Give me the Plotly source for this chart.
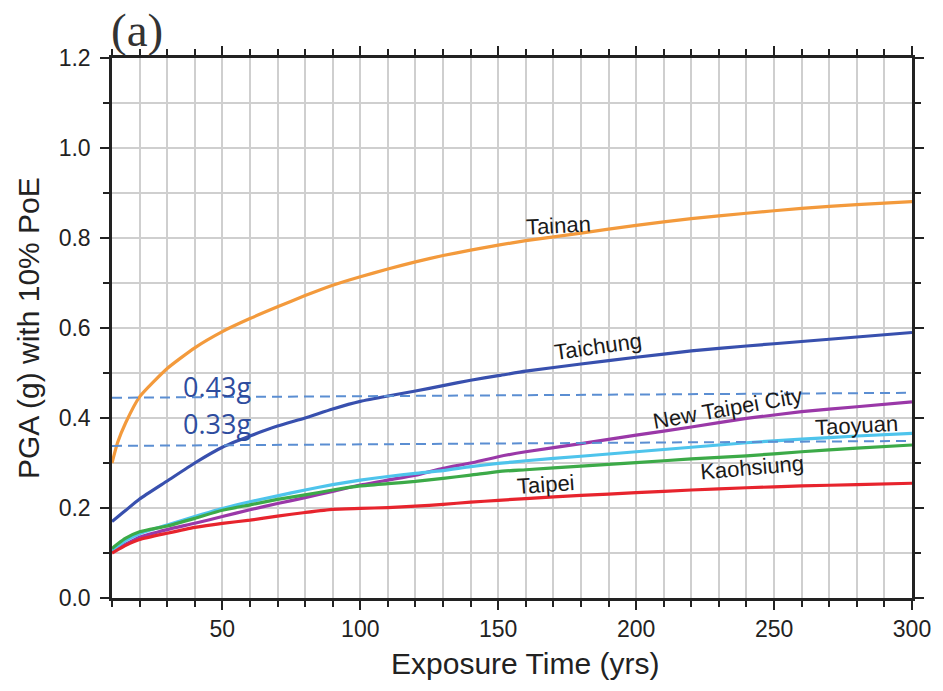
import plotly.graph_objects as go

# ---- data ----
exposure_years = [10, 12, 15, 20, 30, 40, 50, 60, 70, 80, 90, 100, 110, 120, 130, 140,
                  150, 160, 180, 200, 220, 240, 260, 280, 300]

tainan = [0.300, 0.345, 0.390, 0.447, 0.510, 0.556, 0.592, 0.621, 0.647, 0.672, 0.695, 0.714,
          0.731, 0.747, 0.761, 0.773, 0.784, 0.794, 0.811, 0.828, 0.843, 0.855, 0.866, 0.874, 0.881]
taichung = [0.170, 0.180, 0.195, 0.220, 0.260, 0.300, 0.335, 0.360, 0.382, 0.400, 0.420, 0.437,
            0.449, 0.460, 0.472, 0.484, 0.494, 0.504, 0.520, 0.535, 0.549, 0.560, 0.570, 0.580, 0.590]
new_taipei = [0.105, 0.110, 0.120, 0.135, 0.152, 0.166, 0.181, 0.196, 0.210, 0.223, 0.237, 0.251,
              0.262, 0.273, 0.288, 0.300, 0.314, 0.325, 0.343, 0.362, 0.380, 0.399, 0.414, 0.425, 0.436]
taoyuan = [0.105, 0.115, 0.128, 0.143, 0.162, 0.181, 0.199, 0.214, 0.227, 0.240, 0.252, 0.262,
           0.270, 0.277, 0.283, 0.292, 0.299, 0.305, 0.315, 0.325, 0.335, 0.345, 0.353, 0.360, 0.366]
kaohsiung = [0.110, 0.120, 0.133, 0.147, 0.160, 0.177, 0.195, 0.207, 0.219, 0.229, 0.240, 0.249,
             0.254, 0.259, 0.266, 0.273, 0.281, 0.285, 0.293, 0.301, 0.309, 0.316, 0.325, 0.333, 0.340]
taipei = [0.100, 0.107, 0.117, 0.130, 0.144, 0.157, 0.166, 0.173, 0.182, 0.190, 0.197, 0.199,
          0.201, 0.204, 0.208, 0.213, 0.217, 0.221, 0.228, 0.234, 0.240, 0.245, 0.249, 0.252, 0.255]

series_names = ["Tainan", "Taichung", "New Taipei City", "Taoyuan", "Kaohsiung", "Taipei"]
series_values = [tainan, taichung, new_taipei, taoyuan, kaohsiung, taipei]
series_colors = ["#F39A3C", "#3850AE", "#9A38A8", "#4EC4EC", "#3CAA48", "#E7242D"]

# in-plot city labels: (x, y, angle)
label_x = [172, 186, 233, 280, 242, 167]
label_y = [0.827, 0.558, 0.422, 0.384, 0.291, 0.253]
label_angle = [-3, -8, -10, -3, -5, -4]

# dashed reference lines (start/end values) and their texts
ref_x = [10, 300]
ref_upper = [0.445, 0.456]
ref_lower = [0.338, 0.349]
ref_texts = ["0.43g", "0.33g"]
ref_text_x = [48, 48]
ref_text_y = [0.471, 0.387]

x_ticks = [50, 100, 150, 200, 250, 300]
y_ticks = [0.0, 0.2, 0.4, 0.6, 0.8, 1.0, 1.2]

FONT = "Liberation Sans, Arial"
INK = "#222222"

fig = go.Figure()
for name, vals, col in zip(series_names, series_values, series_colors):
    fig.add_trace(go.Scatter(x=exposure_years, y=vals, mode="lines", name=name,
                             line=dict(color=col, width=3.2, shape="spline", smoothing=0.5),
                             showlegend=False))

for ys in (ref_upper, ref_lower):
    fig.add_trace(go.Scatter(x=ref_x, y=ys, mode="lines", showlegend=False,
                             line=dict(color="#5B8ED2", width=2, dash="10px,6px")))

for name, lx, ly, ang in zip(series_names, label_x, label_y, label_angle):
    fig.add_annotation(x=lx, y=ly, text=name, showarrow=False, textangle=ang,
                       font=dict(family=FONT, size=22, color="#1a1a1a"))

for t, tx, ty in zip(ref_texts, ref_text_x, ref_text_y):
    fig.add_annotation(x=tx, y=ty, text=t, showarrow=False,
                       font=dict(family="Open Sans", size=27, color="#2E4C9E"))

fig.add_annotation(xref="paper", yref="paper", x=0.0, y=1.0, xanchor="left", yanchor="bottom",
                   xshift=-3, yshift=0, text="(a)", showarrow=False,
                   font=dict(family="Liberation Serif, Times New Roman", size=47, color="#333333"))

# axis titles
fig.add_annotation(xref="paper", yref="paper", x=0.516, y=-0.122, xanchor="center",
                   yanchor="middle", text="Exposure Time (yrs)", showarrow=False,
                   font=dict(family=FONT, size=30, color=INK))
fig.add_annotation(xref="paper", yref="paper", x=-0.105, y=0.5, xanchor="center",
                   yanchor="middle", text="PGA (g) with 10% PoE", showarrow=False,
                   textangle=-90, font=dict(family=FONT, size=30, color=INK))

grid_col = "#cfcfcf"
fig.update_xaxes(range=[10, 300], tickvals=x_ticks, ticks="outside", ticklen=9, tickwidth=1.5,
                 tickcolor=INK, showline=True, linecolor=INK, linewidth=2.5, mirror="ticks",
                 showgrid=True, gridcolor=grid_col, gridwidth=1.5, zeroline=False,
                 minor=dict(dtick=10, tick0=0, ticks="outside", ticklen=6, tickcolor=INK,
                            showgrid=True, gridcolor=grid_col, gridwidth=1.5),
                 tickfont=dict(size=23, color=INK, family=FONT))
fig.update_yaxes(range=[0, 1.2], tickvals=y_ticks, tickformat=".1f", ticks="outside", ticklen=9,
                 tickwidth=1.5, tickcolor=INK, showline=True, linecolor=INK, linewidth=2.5,
                 mirror="ticks", showgrid=True, gridcolor=grid_col, gridwidth=1.5, zeroline=False,
                 minor=dict(dtick=0.1, tick0=0, ticks="outside", ticklen=6, tickcolor=INK,
                            showgrid=True, gridcolor=grid_col, gridwidth=1.5),
                 ticklabelstandoff=5,
                 tickfont=dict(size=23, color=INK, family=FONT))

fig.update_layout(width=943, height=691, margin=dict(l=112, r=27, t=58, b=93),
                  paper_bgcolor="white", plot_bgcolor="white")

fig.write_html("out.html")
